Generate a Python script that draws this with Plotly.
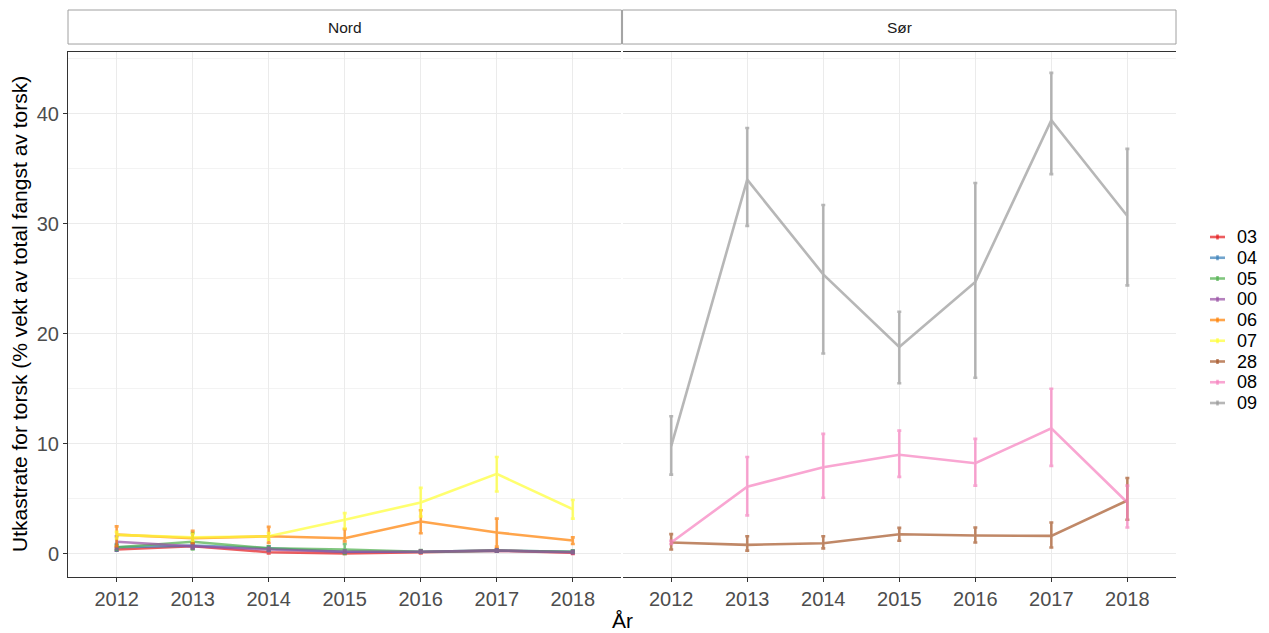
import plotly.graph_objects as go

years = [2012, 2013, 2014, 2015, 2016, 2017, 2018]
panels = ["Nord", "Sør"]

codes = ["03", "04", "05", "00", "06", "07", "28", "08", "09"]
code_panel = ["Nord", "Nord", "Nord", "Nord", "Nord", "Nord", "Sør", "Sør", "Sør"]
colors = ["#E41A1C", "#377EB8", "#4DAF4A", "#984EA3", "#FF7F00", "#FFFF33", "#A65628", "#F781BF", "#999999"]

v03 = [0.4, 0.7, 0.15, 0.05, 0.15, 0.3, 0.1]
lo03 = [0.3, 0.5, 0.05, 0.0, 0.05, 0.2, 0.0]
hi03 = [0.6, 0.9, 0.3, 0.15, 0.3, 0.45, 0.25]

v04 = [0.6, 0.75, 0.5, 0.2, 0.2, 0.3, 0.2]
lo04 = [0.3, 0.5, 0.3, 0.1, 0.1, 0.2, 0.1]
hi04 = [0.9, 1.0, 0.7, 0.35, 0.3, 0.4, 0.3]

v05 = [0.6, 1.1, 0.5, 0.4, 0.2, 0.3, 0.2]
lo05 = [0.4, 0.4, 0.3, 0.0, 0.1, 0.2, 0.1]
hi05 = [0.8, 1.9, 0.7, 0.9, 0.35, 0.4, 0.3]

v00 = [1.1, 0.7, 0.4, 0.2, 0.2, 0.3, 0.15]
lo00 = [0.5, 0.5, 0.25, 0.1, 0.1, 0.2, 0.05]
hi00 = [1.6, 0.9, 0.55, 0.3, 0.3, 0.4, 0.25]

v06 = [1.75, 1.42, 1.6, 1.42, 2.94, 1.94, 1.21]
lo06 = [0.7, 1.0, 1.0, 1.14, 1.88, 0.66, 0.9]
hi06 = [2.5, 2.1, 2.45, 2.25, 3.97, 3.2, 1.5]

v07 = [1.73, 1.5, 1.6, 3.1, 4.67, 7.27, 4.06]
lo07 = [1.4, 1.2, 1.3, 2.3, 3.4, 5.67, 3.2]
hi07 = [2.0, 1.8, 1.9, 3.7, 6.0, 8.8, 4.9]

v28 = [1.03, 0.82, 0.97, 1.79, 1.67, 1.64, 4.85]
lo28 = [0.4, 0.3, 0.5, 1.2, 1.03, 0.58, 3.1]
hi28 = [1.8, 1.6, 1.6, 2.36, 2.4, 2.85, 6.9]

v08 = [1.03, 6.1, 7.88, 9.0, 8.24, 11.4, 4.67]
lo08 = [0.9, 3.5, 5.1, 7.0, 6.2, 8.0, 2.4]
hi08 = [1.2, 8.8, 10.9, 11.2, 10.45, 15.0, 6.2]

v09 = [9.8, 34.0, 25.4, 18.8, 24.7, 39.4, 30.7]
lo09 = [7.2, 29.8, 18.2, 15.5, 16.0, 34.5, 24.4]
hi09 = [12.5, 38.7, 31.7, 22.0, 33.7, 43.7, 36.8]

values = [v03, v04, v05, v00, v06, v07, v28, v08, v09]
lows = [lo03, lo04, lo05, lo00, lo06, lo07, lo28, lo08, lo09]
highs = [hi03, hi04, hi05, hi00, hi06, hi07, hi28, hi08, hi09]

FONT = "Liberation Sans, Arial"
ALPHA = 0.7

fig = go.Figure()
for code, pan, col, v, lo, hi in zip(codes, code_panel, colors, values, lows, highs):
    xa = "x" if pan == "Nord" else "x2"
    fig.add_trace(go.Scatter(
        x=years, y=v, mode="lines", name=code, xaxis=xa, yaxis="y",
        line=dict(color=col, width=2.6), opacity=ALPHA, showlegend=False,
        error_y=dict(type="data", symmetric=False,
                     array=[h - a for h, a in zip(hi, v)],
                     arrayminus=[a - l for a, l in zip(v, lo)],
                     color=col, thickness=2.6, width=2),
    ))

axis_common = dict(
    range=[2011.36, 2018.64], tickvals=years, ticktext=[str(y) for y in years],
    showgrid=True, gridcolor="#EBEBEB", gridwidth=1,
    showline=True, mirror=True, linecolor="#333333", linewidth=1,
    ticks="outside", ticklen=4, tickcolor="#333333",
    tickfont=dict(family=FONT, size=20, color="#4D4D4D"),
    zeroline=False,
)
fig.update_layout(
    xaxis=dict(domain=[0, 0.4995], anchor="y", **axis_common),
    xaxis2=dict(domain=[0.5005, 1], anchor="y", **axis_common),
    yaxis=dict(range=[-2.1, 45.6], tickvals=[0, 10, 20, 30, 40],
               showgrid=True, gridcolor="#EBEBEB", gridwidth=1,
               minor=dict(tickvals=[5, 15, 25, 35, 45], showgrid=True, gridcolor="#F3F3F3", gridwidth=1),
               showline=True, linecolor="#333333", linewidth=1,
               ticks="outside", ticklen=4, tickcolor="#333333",
               tickfont=dict(family=FONT, size=20, color="#4D4D4D"),
               zeroline=False),
    plot_bgcolor="white", paper_bgcolor="white",
    width=1261, height=625,
    margin=dict(l=60, r=93, t=44, b=56, autoexpand=False),
    showlegend=False,
)

# facet strips
strip_domains = [(0, 0.4995), (0.5005, 1)]
for (x0, x1), name in zip(strip_domains, panels):
    fig.add_shape(type="rect", xref="paper", yref="paper", x0=x0, x1=x1, y0=1.0152, y1=1.08,
                  fillcolor="white", line=dict(color="#A0A0A0", width=1))
    fig.add_annotation(text=name, xref="paper", yref="paper", x=(x0 + x1) / 2, y=1.0476,
                       xanchor="center", yanchor="middle", showarrow=False,
                       font=dict(family=FONT, size=15.5, color="#1A1A1A"))

# manual legend (ggplot-style compact keys)
leg_top = (577 - 237) / 525
leg_step = 20.75 / 525
kx0 = (1210 - 68) / 1108
kx1 = (1225 - 68) / 1108
kxm = (kx0 + kx1) / 2
tx = (1236 - 68) / 1108
for i, (code, col) in enumerate(zip(codes, colors)):
    yy = leg_top - i * leg_step
    fig.add_shape(type="line", xref="paper", yref="paper", x0=kx0, x1=kx1, y0=yy, y1=yy,
                  line=dict(color=col, width=2.6), opacity=ALPHA)
    fig.add_shape(type="line", xref="paper", yref="paper", x0=kxm, x1=kxm, y0=yy - 2.5 / 525, y1=yy + 2.5 / 525,
                  line=dict(color=col, width=2.6), opacity=ALPHA)
    fig.add_annotation(text=code, xref="paper", yref="paper", x=tx, y=yy,
                       xanchor="left", yanchor="middle", showarrow=False, borderpad=0,
                       font=dict(family=FONT, size=18, color="#000000"))

fig.add_annotation(text="Utkastrate for torsk (% vekt av total fangst av torsk)", xref="paper", yref="paper",
                   x=(19 - 68) / 1108, y=(577 - 314) / 525, xanchor="center", yanchor="middle",
                   textangle=-90, showarrow=False,
                   font=dict(family=FONT, size=21, color="#000000"))
fig.add_annotation(text="År", xref="paper", yref="paper", x=(622 - 68) / 1108, y=(577 - 620) / 525,
                   xanchor="center", yanchor="middle", showarrow=False,
                   font=dict(family=FONT, size=21, color="#000000"))

fig.write_html("out.html")
